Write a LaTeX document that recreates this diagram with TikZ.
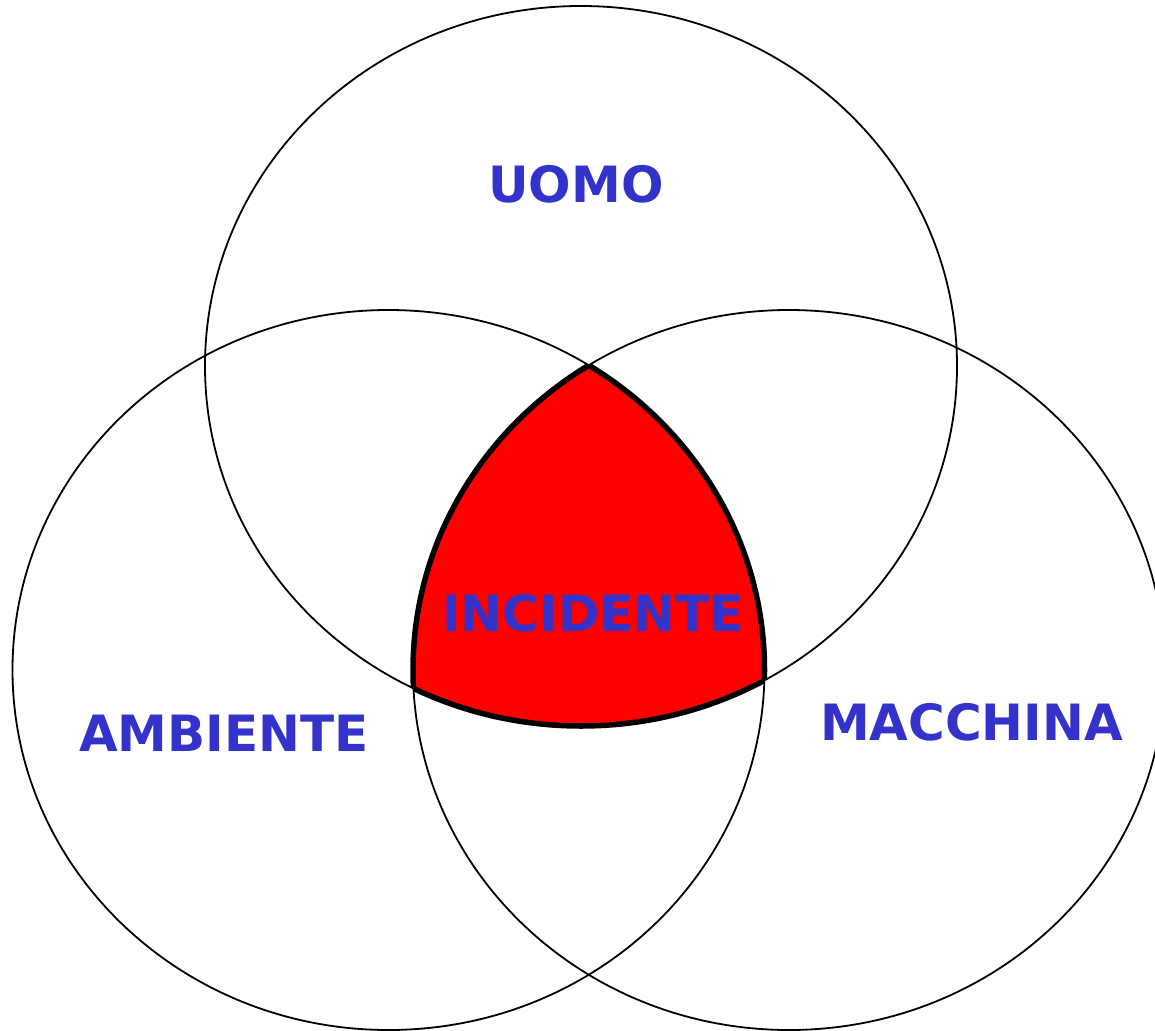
\documentclass[tikz,border=0pt]{standalone}
\usepackage{fontspec}
\setmainfont{DejaVu Sans}
\definecolor{labelblue}{HTML}{3333CC}
\definecolor{hitred}{HTML}{FF0000}
\begin{document}
\begin{tikzpicture}[x=1pt,y=-1pt,
  setline/.style={line width=1.8pt,black},
  rim/.style={line width=5.5pt,black},
  lbl/.style={text=labelblue,font=\fontsize{50}{60}\selectfont\bfseries,inner sep=0pt,anchor=center}]
\useasboundingbox (0,0) rectangle (1155,1030);
\def\eTop{(581,366) ellipse [x radius=376pt, y radius=360pt]}
\def\eLeft{(388.5,670) ellipse [x radius=376pt, y radius=360pt]}
\def\eRight{(789,670) ellipse [x radius=376pt, y radius=360pt]}
\begin{scope}
\clip (0,0) rectangle (1155,1030);
\draw[setline] \eTop;
\draw[setline] \eLeft;
\draw[setline] \eRight;
\end{scope}
% intersection fill
\begin{scope}
\clip \eTop;
\clip \eLeft;
\fill[hitred] \eRight;
\end{scope}
% thick outline of intersection
\begin{scope}
\clip \eLeft; \clip \eRight;
\draw[rim] \eTop;
\end{scope}
\begin{scope}
\clip \eTop; \clip \eRight;
\draw[rim] \eLeft;
\end{scope}
\begin{scope}
\clip \eTop; \clip \eLeft;
\draw[rim] \eRight;
\end{scope}
\node[lbl] (uomo) at (576,184) {UOMO};
\node[lbl] (incidente) at (593,613) {INCIDENTE};
\node[lbl] (ambiente) at (224,733) {AMBIENTE};
\node[lbl] (macchina) at (971.5,722) {MACCHINA};
\end{tikzpicture}
\end{document}
